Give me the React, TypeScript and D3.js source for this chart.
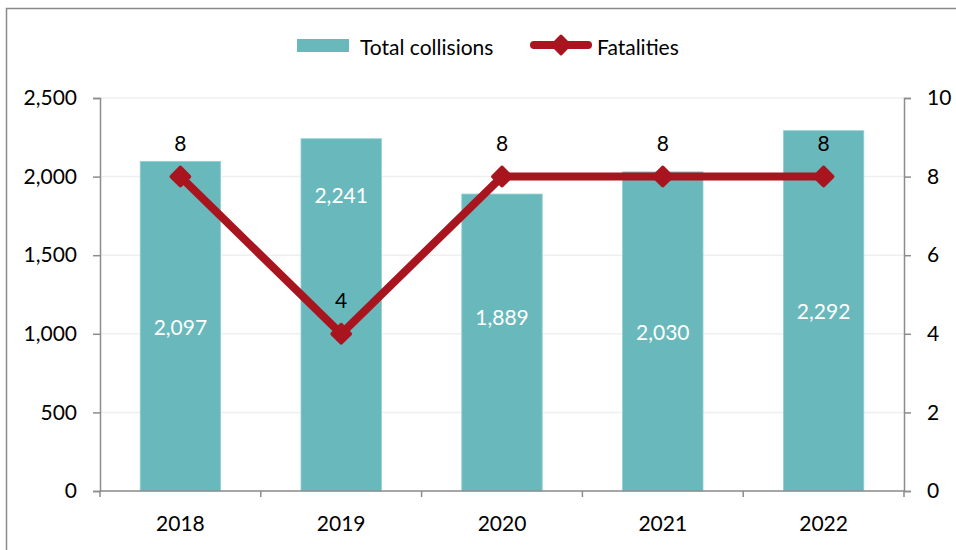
import { useEffect, useRef } from 'react';
import * as d3 from 'd3';

const years = ['2018', '2019', '2020', '2021', '2022'];
const totalCollisions = [2097, 2241, 1889, 2030, 2292];
const fatalities = [8, 4, 8, 8, 8];
const leftTicks = [0, 500, 1000, 1500, 2000, 2500];
const rightTicks = [0, 2, 4, 6, 8, 10];

const barColour = '#69b8bb';
const lineColour = '#a8151f';
const axisColour = '#8c8c8c';
const font = 'Lato, Carlito, sans-serif';
const fontSize = '21px';

const App = () => {
  const svgRef = useRef(null);

  useEffect(() => {
    const svg = d3.select(svgRef.current);
    svg.selectAll('*').remove();

    const width = 956;
    const height = 550;
    const margin = { top: 98, right: 52, bottom: 59, left: 100 };
    const innerW = width - margin.left - margin.right;
    const innerH = height - margin.top - margin.bottom;

    // frame (only top + left edges show)
    svg
      .append('rect')
      .attr('x', 6.5)
      .attr('y', 8.5)
      .attr('width', 1000)
      .attr('height', 600)
      .attr('fill', 'none')
      .attr('stroke', '#8a8a8a')
      .attr('stroke-width', 1.5);

    const x = d3.scaleBand().domain(years).range([0, innerW]).paddingInner(0.5).paddingOuter(0.25);
    const yLeft = d3.scaleLinear().domain([0, 2500]).range([innerH, 0]);
    const yRight = d3.scaleLinear().domain([0, 10]).range([innerH, 0]);

    const g = svg.append('g').attr('transform', `translate(${margin.left},${margin.top})`);

    // gridlines
    g.selectAll('.grid')
      .data(leftTicks)
      .enter()
      .append('line')
      .attr('x1', 0)
      .attr('x2', innerW)
      .attr('y1', (d) => yLeft(d))
      .attr('y2', (d) => yLeft(d))
      .attr('stroke', '#efefef')
      .attr('stroke-width', 1.5);

    // bars
    g.selectAll('.bar')
      .data(totalCollisions)
      .enter()
      .append('rect')
      .attr('x', (d, i) => x(years[i]))
      .attr('y', (d) => yLeft(d))
      .attr('width', x.bandwidth())
      .attr('height', (d) => innerH - yLeft(d))
      .attr('fill', barColour)
      .attr('stroke', '#8fd0d1')
      .attr('stroke-width', 0.8);

    // bar labels: centred, except 2019/2020 which were nudged to dodge the line
    const labelAt = (d, i) => {
      if (i === 1) return yLeft(1889);
      if (i === 2) return yLeft(1107);
      return (yLeft(d) + innerH) / 2;
    };
    g.selectAll('.bar-label')
      .data(totalCollisions)
      .enter()
      .append('text')
      .attr('x', (d, i) => x(years[i]) + x.bandwidth() / 2)
      .attr('y', labelAt)
      .attr('text-anchor', 'middle')
      .attr('dominant-baseline', 'central')
      .style('font-family', font)
      .style('font-size', fontSize)
      .attr('fill', 'white')
      .text((d) => d3.format(',')(d));

    // axes
    const leftAxis = g
      .append('g')
      .call(d3.axisLeft(yLeft).tickValues(leftTicks).tickFormat(d3.format(',')).tickSize(7).tickPadding(16));
    const rightAxis = g
      .append('g')
      .attr('transform', `translate(${innerW},0)`)
      .call(d3.axisRight(yRight).tickValues(rightTicks).tickSize(7).tickPadding(16));

    const bandStep = innerW / years.length;
    const bottomAxis = g.append('g').attr('transform', `translate(0,${innerH})`);
    bottomAxis
      .append('line')
      .attr('x1', 0)
      .attr('x2', innerW)
      .attr('stroke', axisColour)
      .attr('stroke-width', 1.5);
    bottomAxis
      .selectAll('.xtick')
      .data(d3.range(years.length + 1))
      .enter()
      .append('line')
      .attr('x1', (i) => i * bandStep)
      .attr('x2', (i) => i * bandStep)
      .attr('y1', 0)
      .attr('y2', 6)
      .attr('stroke', axisColour)
      .attr('stroke-width', 1.5);
    bottomAxis
      .selectAll('.xlabel')
      .data(years)
      .enter()
      .append('text')
      .attr('x', (d) => x(d) + x.bandwidth() / 2)
      .attr('y', 31)
      .attr('text-anchor', 'middle')
      .attr('dominant-baseline', 'central')
      .style('font-family', font)
      .style('font-size', fontSize)
      .attr('fill', '#000')
      .text((d) => d);

    [leftAxis, rightAxis].forEach((ax) => {
      ax.select('.domain').attr('stroke', axisColour).attr('stroke-width', 1.5);
      ax.selectAll('.tick line').attr('stroke', axisColour).attr('stroke-width', 1.5);
      ax.selectAll('.tick text')
        .style('font-family', font)
        .style('font-size', fontSize)
        .attr('fill', '#000');
    });

    // fatalities line
    const cx = (i) => x(years[i]) + x.bandwidth() / 2;
    const line = d3
      .line()
      .x((d, i) => cx(i))
      .y((d) => yRight(d));

    g.append('path')
      .datum(fatalities)
      .attr('d', line)
      .attr('fill', 'none')
      .attr('stroke', lineColour)
      .attr('stroke-width', 8)
      .attr('stroke-linejoin', 'round')
      .attr('stroke-linecap', 'round');

    const diamond = d3.symbol().type(d3.symbolDiamond2).size(200);
    g.selectAll('.marker')
      .data(fatalities)
      .enter()
      .append('path')
      .attr('d', diamond)
      .attr('transform', (d, i) => `translate(${cx(i)},${yRight(d)})`)
      .attr('fill', lineColour)
      .attr('stroke', lineColour)
      .attr('stroke-width', 4)
      .attr('stroke-linejoin', 'round');

    g.selectAll('.line-label')
      .data(fatalities)
      .enter()
      .append('text')
      .attr('x', (d, i) => cx(i))
      .attr('y', (d) => yRight(d) - 34)
      .attr('text-anchor', 'middle')
      .attr('dominant-baseline', 'central')
      .style('font-family', font)
      .style('font-size', fontSize)
      .attr('fill', '#000')
      .text((d) => d);

    // legend
    const legend = svg.append('g');
    legend
      .append('rect')
      .attr('x', 297)
      .attr('y', 39)
      .attr('width', 52)
      .attr('height', 13)
      .attr('fill', barColour);
    legend
      .append('text')
      .attr('x', 360)
      .attr('y', 46)
      .attr('dominant-baseline', 'central')
      .style('font-family', font)
      .style('font-size', fontSize)
      .text('Total collisions');
    legend
      .append('line')
      .attr('x1', 534)
      .attr('x2', 588)
      .attr('y1', 45)
      .attr('y2', 45)
      .attr('stroke', lineColour)
      .attr('stroke-width', 8)
      .attr('stroke-linecap', 'round');
    legend
      .append('path')
      .attr('d', diamond)
      .attr('transform', 'translate(561,45)')
      .attr('fill', lineColour)
      .attr('stroke', lineColour)
      .attr('stroke-width', 3)
      .attr('stroke-linejoin', 'round');
    legend
      .append('text')
      .attr('x', 597)
      .attr('y', 46)
      .attr('dominant-baseline', 'central')
      .style('font-family', font)
      .style('font-size', fontSize)
      .text('Fatalities');
  }, []);

  return (
    <svg
      ref={svgRef}
      width={956}
      height={550}
      style={{ position: 'absolute', left: 0, top: 0, background: 'white' }}
    />
  );
};

export default App;
